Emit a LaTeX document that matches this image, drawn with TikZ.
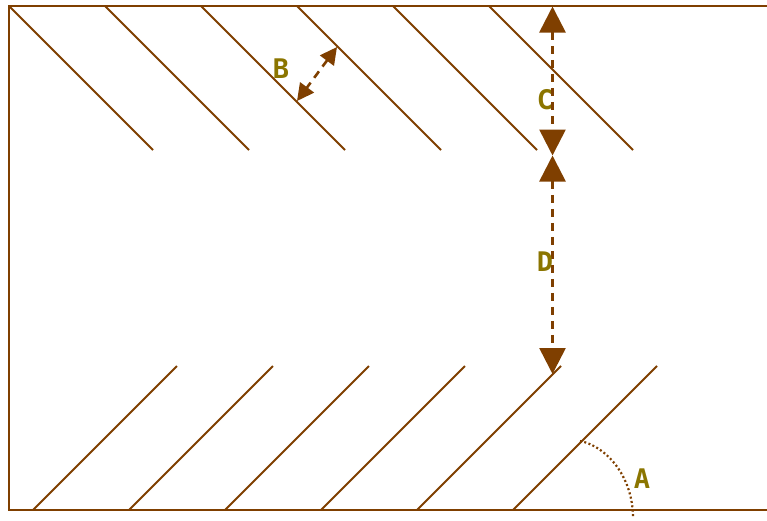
\documentclass[tikz,border=0pt]{standalone}
\usepackage{fontspec}
\setmainfont{DejaVu Sans Mono}
\usetikzlibrary{arrows.meta}
\definecolor{linec}{HTML}{7F3F00}
\definecolor{textc}{HTML}{8B7500}
\tikzset{
  hatch/.style={draw=linec,line width=2pt},
  frame/.style={draw=linec,line width=2.2pt},
  bigdim/.style={draw=linec,line width=2.6pt,dash pattern=on 8pt off 6pt,{Triangle[length=26pt,width=26pt,fill=linec]}-{Triangle[length=26pt,width=26pt,fill=linec]}},
  smalldim/.style={draw=linec,line width=2.6pt,dash pattern=on 8pt off 6pt,{Triangle[length=17pt,width=17pt,fill=linec]}-{Triangle[length=17pt,width=17pt,fill=linec]}},
  arcline/.style={draw=linec,line width=2.2pt,dash pattern=on 2pt off 2.4pt},
  lab/.style={text=textc,font=\fontsize{27}{27}\selectfont\bfseries,inner sep=0pt}
}
\begin{document}
\begin{tikzpicture}[x=1pt,y=-1pt]
\useasboundingbox (0,0) rectangle (767,520);
\draw[frame] (767,6) -- (9,6) -- (9,510) -- (767,510);
\foreach \i in {0,...,5}{
  \draw[hatch] ({9+96*\i},6) -- ({153+96*\i},150);
  \draw[hatch] ({33+96*\i},510) -- ({177+96*\i},366);
}
\coordinate (ct) at (552.5,6.5);
\coordinate (cd) at (552.5,155.5);
\coordinate (db) at (552.5,374);
\coordinate (bt) at (337,47);
\coordinate (bb) at (297,101);
\coordinate (as) at (580,441);
\coordinate (ae) at (633,518);
\draw[bigdim] (ct) -- (cd);
\draw[bigdim] (cd) -- (db);
\draw[smalldim] (bt) -- (bb);
\draw[arcline] (as) .. controls (606,446) and (633,476) .. (ae);
\node[lab] (labelA) at (642,479) {A};
\node[lab] (labelB) at (281,69) {B};
\node[lab] (labelC) at (545,100) {C};
\node[lab] (labelD) at (545,262) {D};
\end{tikzpicture}
\end{document}
